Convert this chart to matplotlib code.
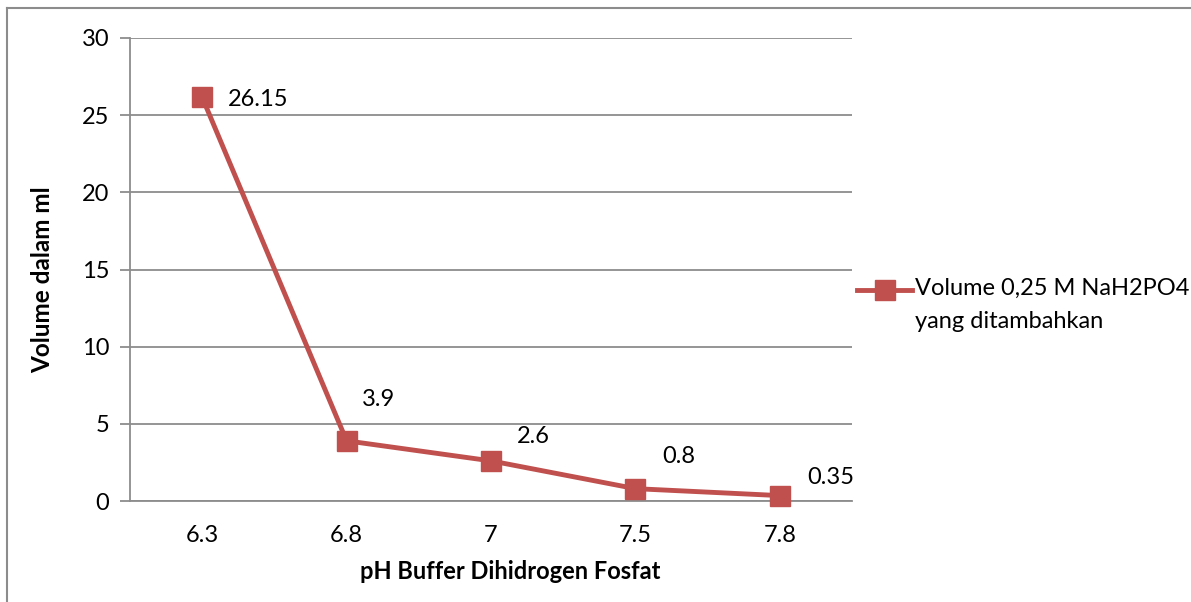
import matplotlib.pyplot as plt
import matplotlib.lines as mlines
import numpy as np

plt.rcParams['font.family'] = ['Lato', 'DejaVu Sans']

## data
ph_labels = ['6.3', '6.8', '7', '7.5', '7.8']
volume = [26.15, 3.9, 2.6, 0.8, 0.35]
series_name = 'Volume 0,25 M NaH2PO4\nyang ditambahkan'
yticks = [0, 5, 10, 15, 20, 25, 30]

# label offsets in pixels (dx, dy) -- purely cosmetic
label_off = [(26, -2), (15, 41), (26, 24), (27, 32), (27, 18)]

red = '#C0504D'
grid_c = '#8C8C8C'
fs = 17
W, H = 1191, 602

fig = plt.figure(figsize=(W/100, H/100), dpi=100)
ax = fig.add_axes([130/W, 1-501/H, 722/W, 463/H])

x = np.arange(len(ph_labels))
ax.plot(x, volume, color=red, linewidth=3.5, marker='s', markersize=14,
        markeredgecolor=red, markerfacecolor=red, clip_on=False, zorder=3)

for i, v in enumerate(volume):
    dx, dy = label_off[i]
    ax.annotate(f'{v:g}', (x[i], v), xytext=(dx*0.72, dy*0.72),
                textcoords='offset points', ha='left', va='center',
                fontsize=fs)

ax.set_xlim(-0.5, len(ph_labels)-0.5)
ax.set_ylim(0, 30)
ax.set_xticks(x)
ax.set_xticklabels(ph_labels, fontsize=fs)
ax.set_yticks(yticks)
ax.set_yticklabels([str(t) for t in yticks], fontsize=fs)
ax.tick_params(axis='x', length=0, pad=17)
ax.tick_params(axis='y', length=7, width=1.3, color=grid_c, pad=8)

ax.grid(axis='y', color=grid_c, linewidth=1.3)
ax.set_axisbelow(True)
for s in ['top', 'right']:
    ax.spines[s].set_visible(False)
for s in ['left', 'bottom']:
    ax.spines[s].set_color(grid_c)
    ax.spines[s].set_linewidth(1.3)

ax.set_xlabel('pH Buffer Dihidrogen Fosfat', fontsize=17, fontweight='bold')
ax.set_ylabel('Volume dalam ml', fontsize=17.5, fontweight='bold')
ax.xaxis.set_label_coords((510-130)/722, (501-560)/463)
ax.yaxis.set_label_coords((54-130)/722, (501-280)/463)

# legend drawn by hand so the key sits on the first line (Excel style)
ly = 1 - 290/H
fig.add_artist(mlines.Line2D([857/W, 912/W], [ly, ly], transform=fig.transFigure,
                             color=red, linewidth=3.5))
fig.add_artist(mlines.Line2D([884.5/W], [ly], transform=fig.transFigure,
                             color=red, marker='s', markersize=14))
fig.text(915/W, 1 - 278/H, series_name, fontsize=fs, va='top', ha='left',
         linespacing=1.7)

# outer chart border (only left and top visible)
fig.add_artist(mlines.Line2D([7/W, 7/W], [0, 1-7.5/H],
                             transform=fig.transFigure, color=grid_c, linewidth=1.5))
fig.add_artist(mlines.Line2D([7/W, 1], [1-7.5/H, 1-7.5/H],
                             transform=fig.transFigure, color=grid_c, linewidth=1.5))

fig.savefig('out.png', dpi=100)
